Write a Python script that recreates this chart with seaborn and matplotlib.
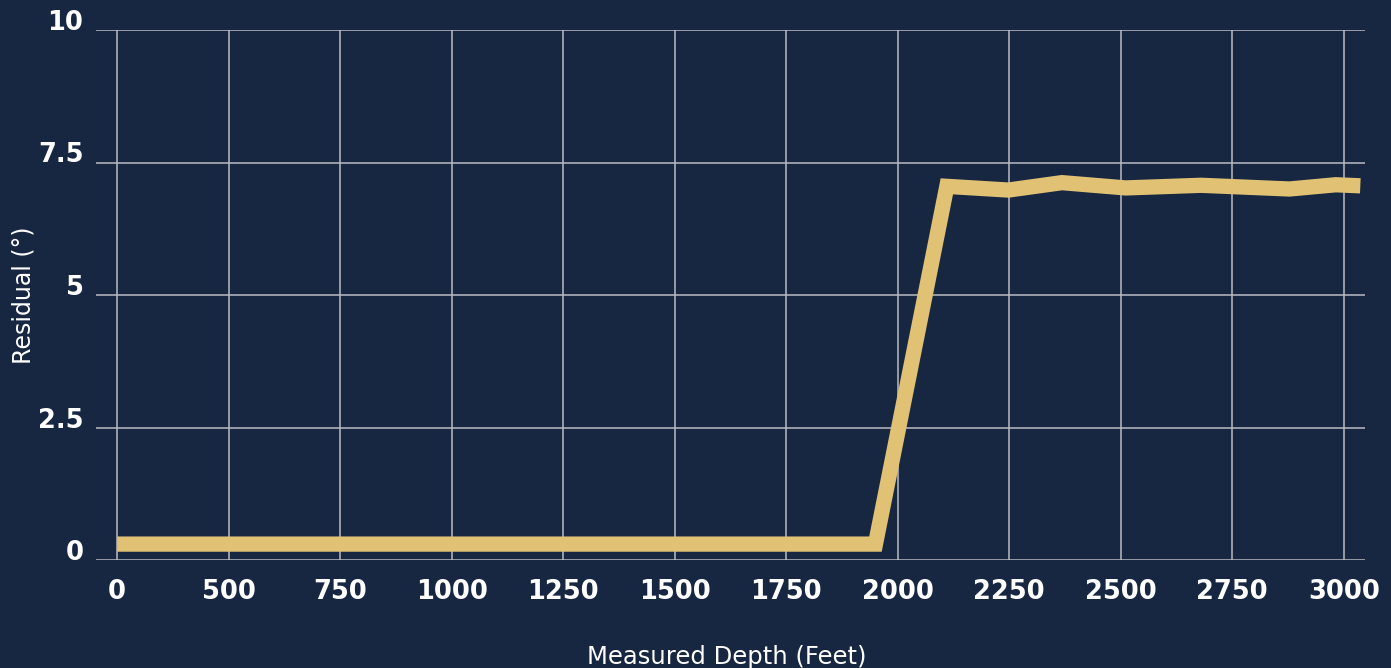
import numpy as np
import pandas as pd
import matplotlib
matplotlib.use("Agg")
import matplotlib.pyplot as plt
import seaborn as sns

# ---- data ----
depth_ft = [0, 1950, 2110, 2248, 2368, 2511, 2680, 2878, 2982, 3037]
residual_deg = [0.3, 0.3, 7.05, 6.98, 7.12, 7.02, 7.07, 7.0, 7.08, 7.06]
x_tick_values = [0, 500, 750, 1000, 1250, 1500, 1750, 2000, 2250, 2500, 2750, 3000]
x_tick_labels = [str(v) for v in x_tick_values]
y_tick_values = [0, 2.5, 5, 7.5, 10]
y_tick_labels = ["0", "2.5", "5", "7.5", "10"]

BG = "#172641"
LINE = "#E1C274"
GRID = "#B9BCC3"

sns.set_theme(style="white")
plt.rcParams["font.family"] = ["DejaVu Sans"]

df = pd.DataFrame({"Measured Depth (Feet)": depth_ft, "Residual (°)": residual_deg})

fig = plt.figure(figsize=(13.91, 6.68), dpi=100, facecolor=BG)
ax = fig.add_axes([96 / 1391, 1 - 560 / 668, (1365 - 96) / 1391, (560 - 30) / 668])
ax.set_facecolor(BG)

tv = np.array(x_tick_values, dtype=float)
pos = np.arange(len(tv), dtype=float)

def fwd(x):
    x = np.asarray(x, dtype=float)
    out = np.interp(x, tv, pos)
    lo = x < tv[0]
    hi = x > tv[-1]
    out = np.where(lo, (x - tv[0]) / (tv[1] - tv[0]), out)
    out = np.where(hi, pos[-1] + (x - tv[-1]) / (tv[-1] - tv[-2]), out)
    return out

def inv(p):
    p = np.asarray(p, dtype=float)
    out = np.interp(p, pos, tv)
    lo = p < pos[0]
    hi = p > pos[-1]
    out = np.where(lo, tv[0] + p * (tv[1] - tv[0]), out)
    out = np.where(hi, tv[-1] + (p - pos[-1]) * (tv[-1] - tv[-2]), out)
    return out

ax.set_xscale("function", functions=(fwd, inv))

sns.lineplot(data=df, x="Measured Depth (Feet)", y="Residual (°)", ax=ax,
             color=LINE, linewidth=11, sort=False,
             solid_joinstyle="miter", solid_capstyle="butt", zorder=3)

ax.set_xlim(inv(-0.19), inv(11.19))
ax.set_ylim(0, 10)
ax.set_xticks(x_tick_values)
ax.set_xticklabels(x_tick_labels, fontweight="bold", fontsize=18.5, color="white")
ax.set_yticks(y_tick_values)
ax.set_yticklabels(y_tick_labels, fontweight="bold", fontsize=18.5, color="white",
                   va="baseline")
ax.xaxis.set_minor_locator(matplotlib.ticker.NullLocator())

ax.grid(True, color=GRID, linewidth=1.1, zorder=0)
for s in ax.spines.values():
    s.set_visible(False)

ax.tick_params(axis="both", length=0)
ax.tick_params(axis="x", pad=14)
ax.tick_params(axis="y", pad=9)

ax.set_xlabel("Measured Depth (Feet)", color="white", fontsize=17.5)
ax.set_ylabel("Residual (°)", color="white", fontsize=17)
ax.xaxis.set_label_coords(0.497, -0.16)
ax.yaxis.set_label_coords(-0.048, 0.5)

fig.savefig("out.png", dpi=100, facecolor=BG)
